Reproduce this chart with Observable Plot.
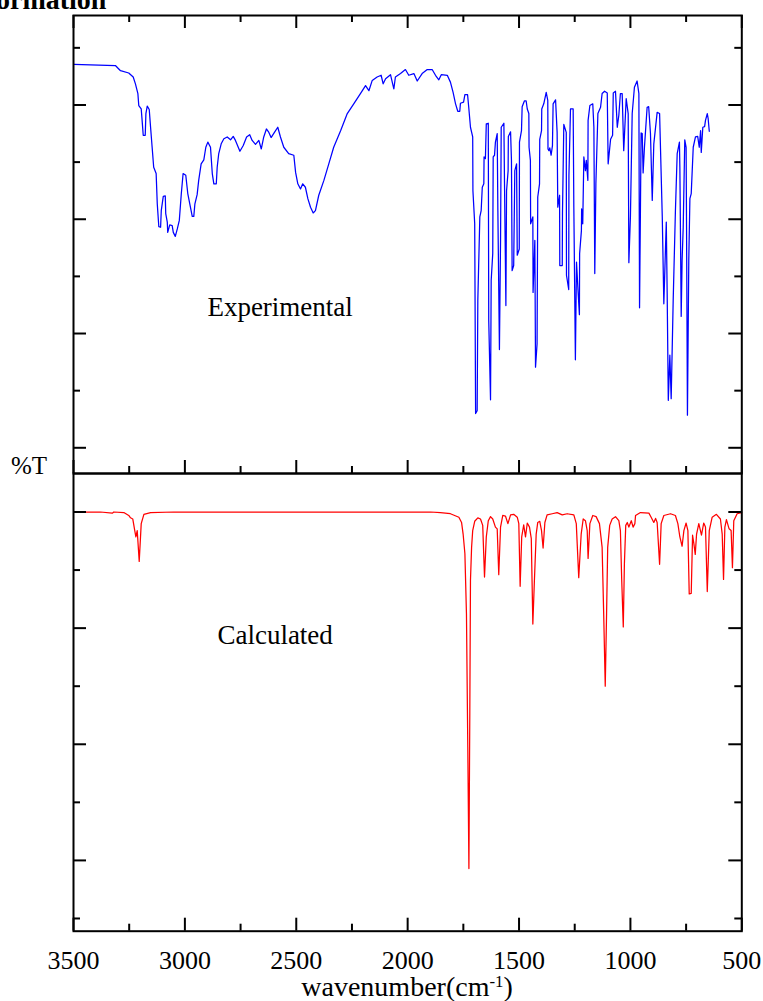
<!DOCTYPE html>
<html><head><meta charset="utf-8">
<script src="https://cdn.jsdelivr.net/npm/d3@7"></script>
<script src="https://cdn.jsdelivr.net/npm/@observablehq/plot@0.6"></script>
<style>
body{margin:0;background:#fff;}
#wrap{position:relative;width:763px;height:1001px;overflow:hidden;font-family:"Liberation Serif","Times New Roman",Times,serif;color:#000;}
.abs{position:absolute;white-space:nowrap;line-height:1;}
.abs sup{font-size:0.6em;line-height:0;vertical-align:0.55em;}
#topPlot{position:absolute;left:0;top:0;}
#botPlot{position:absolute;left:0;top:472px;}
#topPlot svg text, #botPlot svg text{font-family:"Liberation Serif","Times New Roman",Times,serif;}
</style></head><body>
<div id="wrap">
  <div id="topPlot"></div>
  <div id="botPlot"></div>
  <div class="abs" style="left:-4px;top:-14.5px;font-size:28px;font-weight:bold;">ormation</div>
  <div class="abs" style="left:11px;top:453px;font-size:25px;">%T</div>
  <div class="abs" style="left:407px;top:972.5px;font-size:28px;transform:translateX(-50%);">wavenumber(cm<sup>-1</sup>)</div>
</div>
<script>
// ---- data (wavenumber in cm-1, transmittance in arbitrary %T units) ----
const expWavenumber = [3499,3312,3289,3252,3232,3222,3211,3207,3196,3192,3187,3178,3175,3169,3160,3154,3147,3140,3129,3124,3117,3109,3106,3097,3088,3086,3079,3077,3068,3057,3052,3043,3034,3025,3016,3008,2996,2987,2978,2967,2960,2955,2945,2938,2927,2915,2906,2897,2885,2877,2870,2859,2855,2848,2837,2825,2810,2795,2783,2773,2753,2738,2723,2709,2698,2683,2668,2657,2646,2634,2623,2613,2598,2583,2571,2556,2534,2511,2503,2493,2481,2471,2459,2448,2436,2424,2414,2399,2376,2354,2332,2301,2271,2242,2212,2189,2174,2159,2137,2119,2110,2099,2077,2062,2055,2032,2010,1995,1972,1957,1935,1912,1890,1875,1860,1849,1822,1808,1796,1785,1775,1766,1763,1749,1743,1731,1726,1718,1708,1707,1699,1695,1688,1685,1676,1670,1665,1658,1657,1651,1647,1638,1636,1628,1625,1618,1616,1610,1606,1598,1595,1588,1583,1580,1568,1565,1559,1556,1549,1548,1538,1534,1531,1524,1519,1511,1508,1499,1498,1489,1486,1476,1468,1463,1456,1455,1449,1448,1438,1437,1429,1426,1419,1416,1408,1407,1399,1398,1389,1378,1371,1370,1366,1362,1356,1350,1347,1336,1329,1326,1318,1317,1306,1305,1299,1288,1287,1277,1276,1269,1257,1254,1247,1242,1236,1229,1228,1220,1219,1214,1209,1202,1198,1191,1190,1182,1169,1164,1160,1155,1146,1134,1127,1116,1104,1100,1089,1080,1077,1067,1059,1052,1045,1037,1030,1019,1010,1007,1000,992,982,970,962,959,952,947,943,937,925,918,910,902,895,880,869,857,850,839,835,830,823,817,808,798,790,780,778,772,768,763,756,750,748,744,738,733,727,718,708,698,691,685,682,675,667,663,655,651,646];
const expTransmittance = [67.1,66.9,66.0,65.6,64.9,63.7,62.0,59.9,59.3,57.3,54.7,54.7,58.5,59.8,59.2,56.1,52.6,49.1,48.0,42.7,38.7,38.6,41.5,44.0,44.1,41.0,39.5,37.7,39.0,38.9,37.7,37.0,38.3,39.8,44.5,48.0,47.7,44.5,42.7,40.5,40.5,42.7,44.3,46.8,49.7,50.4,52.6,53.5,52.6,48.0,46.2,46.2,49.1,51.5,53.2,54.1,54.4,53.9,54.5,53.8,51.9,52.9,54.4,54.8,53.8,53.1,53.8,52.3,54.4,55.8,55.2,54.3,55.2,56.1,54.4,52.6,51.5,51.2,48.2,46.2,45.3,46.2,45.6,43.6,42.1,41.1,41.5,44.2,46.8,49.7,52.6,55.5,58.5,60.2,62.0,63.4,62.5,64.3,64.9,65.2,63.7,64.6,65.3,62.8,64.9,65.5,66.2,65.2,65.5,64.2,65.5,66.2,66.2,65.2,64.4,65.3,65.2,64.0,62.2,60.2,58.9,58.9,60.3,60.5,61.8,61.8,59.7,56.1,54.4,45.0,39.2,6.0,6.5,25.8,40.4,41.5,45.6,46.2,50.9,50.6,56.7,56.8,22.3,8.4,29.3,34.0,50.9,51.2,53.5,55.0,41.5,17.2,36.3,56.1,56.8,45.6,24.9,45.0,48.5,54.5,55.3,50.3,31.0,31.9,48.5,49.7,33.7,34.8,53.5,55.5,59.7,60.7,60.7,59.3,58.5,52.6,50.3,39.2,40.4,27.2,36.3,14.1,18.2,43.9,46.2,54.0,55.5,59.3,60.2,62.2,60.8,52.3,52.0,52.5,51.2,52.9,60.2,60.9,55.2,42.1,44.2,31.9,31.9,41.0,56.6,55.2,30.2,27.7,47.7,59.3,59.3,42.1,15.4,32.5,28.1,23.3,34.0,38.0,41.8,39.2,50.9,48.5,50.3,46.8,57.3,59.9,60.2,56.1,30.5,46.2,58.5,59.6,62.0,62.4,62.1,49.7,54.0,54.7,62.1,62.4,56.1,58.2,62.0,62.0,52.0,61.1,58.5,32.4,40.4,58.5,63.1,64.2,62.0,24.5,55.1,55.0,48.1,52.6,59.6,59.7,55.0,43.3,53.2,58.7,58.5,40.4,25.2,39.5,27.0,8.3,16.2,8.6,25.8,41.5,51.5,53.5,49.1,23.0,32.8,38.6,53.9,52.6,38.6,5.7,32.8,43.6,44.5,52.6,54.4,54.5,52.6,55.5,51.7,56.1,56.2,57.3,58.5,57.6,55.4];

const calcWavenumber = [3500,3379,3326,3319,3274,3252,3244,3234,3225,3220,3214,3205,3196,3184,3154,3050,1897,1853,1808,1770,1758,1751,1743,1736,1730,1725,1721,1718,1713,1708,1699,1685,1673,1663,1655,1647,1638,1628,1618,1606,1598,1591,1583,1573,1561,1550,1538,1524,1508,1501,1495,1488,1479,1471,1463,1453,1445,1438,1431,1423,1416,1407,1399,1392,1384,1374,1351,1329,1306,1284,1254,1243,1232,1221,1212,1202,1194,1190,1182,1169,1154,1139,1127,1120,1113,1107,1102,1093,1082,1067,1052,1045,1039,1032,1027,1021,1014,1007,996,988,980,977,955,917,907,895,887,880,869,862,850,820,798,787,778,768,760,750,742,736,727,721,715,709,703,693,681,671,663,655,646,633,614,596,588,582,576,569,557,548,542,536,521,500];
const calcTransmittance = [70.0,70.0,69.8,70.0,69.9,69.4,69.0,68.8,66.8,65.7,66.8,61.5,68.0,69.6,69.9,70.0,70.0,69.9,69.7,69.1,68.2,66.2,62.8,52.5,29.5,8.6,35.3,58.2,63.9,66.8,68.4,69.0,68.8,67.7,58.8,65.7,68.5,69.2,68.8,67.4,67.1,59.2,67.4,69.4,69.3,68.0,69.5,69.6,69.1,68.0,57.2,65.7,67.8,65.7,68.1,67.4,65.4,50.7,58.2,66.2,68.2,68.4,66.8,63.8,68.2,69.5,69.7,69.9,69.5,69.7,69.5,68.0,58.7,66.2,68.8,68.5,66.8,62.0,68.0,69.4,69.2,68.0,63.9,52.5,40.0,52.5,63.9,67.7,68.8,69.2,68.5,66.8,58.2,50.2,61.1,67.7,68.2,67.4,68.5,67.4,68.0,69.4,69.9,69.8,69.1,68.2,68.9,68.2,61.0,68.0,69.4,69.7,69.4,68.0,65.7,64.1,66.8,68.1,66.8,55.9,56.0,66.0,64.5,62.7,66.2,68.0,66.0,68.1,67.4,56.3,66.8,69.1,69.6,68.8,66.2,58.4,67.4,68.7,67.1,66.8,60.4,68.5,69.7,69.9];

const xMajorTicks = [3500,3000,2500,2000,1500,1000,500];
const xMinorTicks = [3250,2750,2250,1750,1250,750];
const topMajorTicks = [0,20,40,60];
const topMinorTicks = [10,30,50,70];
const botMajorTicks = [10,30,50,70];
const botMinorTicks = [0,20,40,60];
const panelNames = ["Experimental","Calculated"];

const expData = expWavenumber.map((w,i)=>({w, t: expTransmittance[i]}));
const calcData = calcWavenumber.map((w,i)=>({w, t: calcTransmittance[i]}));

// ---- layout ----
const W = 763, ML = 73, MR = 21.7, IW = W - ML - MR;
const serif = '"Liberation Serif","Times New Roman",Times,serif';
const tickStyle = {stroke: "black", strokeWidth: 2};

function frameTicks(yMaj, yMin, innerH, topSide, bottomSide) {
  const m = [];
  for (const [arr, len] of [[yMaj, 13], [yMin, 7]]) {
    m.push(Plot.tickY(arr, {y: d => d, insetRight: IW - len, ...tickStyle}));
    m.push(Plot.tickY(arr, {y: d => d, insetLeft: IW - len, ...tickStyle}));
  }
  for (const [arr, len] of [[xMajorTicks, 13], [xMinorTicks, 7]]) {
    if (topSide) m.push(Plot.tickX(arr, {x: d => d, insetBottom: innerH - len, ...tickStyle}));
    if (bottomSide) m.push(Plot.tickX(arr, {x: d => d, insetTop: innerH - len, ...tickStyle}));
  }
  return m;
}

const topH = 474, topMT = 15, topMB = 1;
const topPlot = Plot.plot({
  width: W, height: topH,
  marginTop: topMT, marginBottom: topMB, marginLeft: ML, marginRight: MR,
  style: {fontFamily: serif, background: "transparent", overflow: "visible"},
  x: {domain: [3500, 500], axis: null},
  y: {domain: [-4.5, 75.66], axis: null},
  marks: [
    Plot.line(expData, {x: "w", y: "t", stroke: "#0000ff", strokeWidth: 1.25}),
    Plot.text([panelNames[0]], {x: [2899], y: [24.5], text: d => d, textAnchor: "start", fontSize: 27, fontFamily: serif, fill: "black"}),
    ...frameTicks(topMajorTicks, topMinorTicks, topH - topMT - topMB, true, true),
    Plot.frame({stroke: "black", strokeWidth: 2})
  ]
});
document.getElementById("topPlot").append(topPlot);

const botH = 529, botMT = 1, botMB = 70.3;
const botPlot = Plot.plot({
  width: W, height: botH,
  marginTop: botMT, marginBottom: botMB, marginLeft: ML, marginRight: MR,
  style: {fontFamily: serif, background: "transparent", overflow: "visible"},
  x: {domain: [3500, 500], axis: null, label: null},
  y: {domain: [-2.19, 76.63], axis: null},
  marks: [
    Plot.line(calcData, {x: "w", y: "t", stroke: "#ff0000", strokeWidth: 1.25}),
    Plot.text([panelNames[1]], {x: [2854], y: [48.8], text: d => d, textAnchor: "start", fontSize: 27, fontFamily: serif, fill: "black"}),
    ...frameTicks(botMajorTicks, botMinorTicks, botH - botMT - botMB, false, true),
    Plot.text(xMajorTicks, {x: d => d, frameAnchor: "bottom", lineAnchor: "top", dy: 19, text: d => String(d), fontSize: 26, fontFamily: serif, fill: "black"}),
    Plot.frame({stroke: "black", strokeWidth: 2})
  ]
});
document.getElementById("botPlot").append(botPlot);
</script>
</body></html>
